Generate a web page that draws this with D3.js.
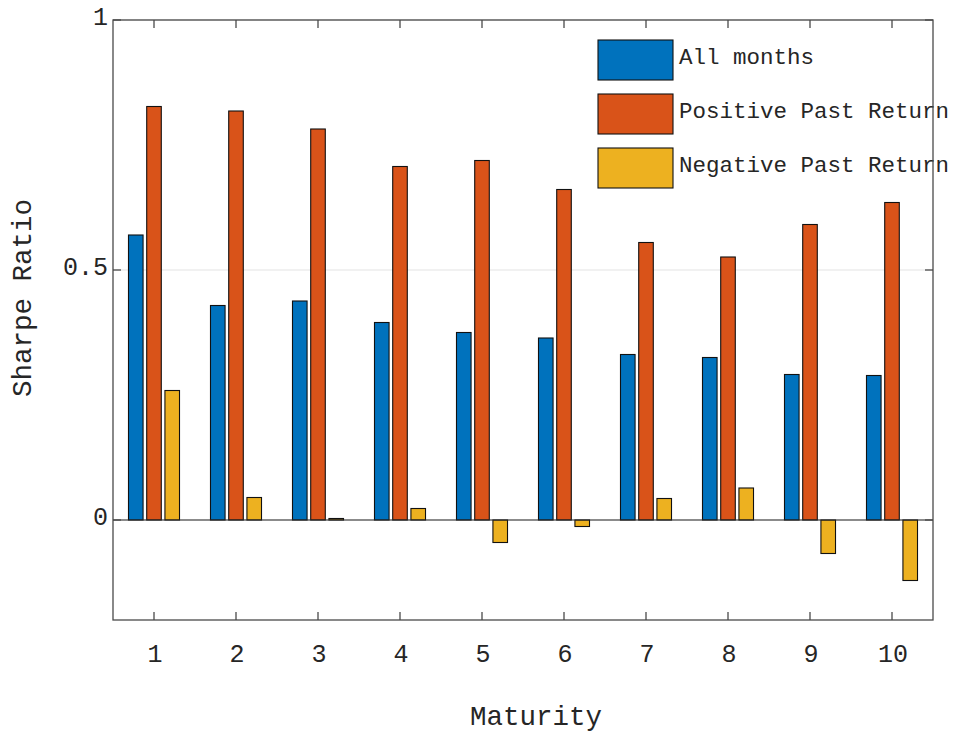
<!DOCTYPE html>
<html>
<head>
<meta charset="utf-8">
<script src="https://cdn.jsdelivr.net/npm/d3@7"></script>
<style>
  html, body { margin: 0; padding: 0; background: #fff; }
  svg { display: block; }
  text { font-family: "Courier New", Courier, "Nimbus Mono PS", "Nimbus Mono L", FreeMono, "Liberation Mono", monospace; fill: #262626; }
</style>
</head>
<body>
<svg id="chart" width="956" height="735"></svg>
<script>
const maturities = [1, 2, 3, 4, 5, 6, 7, 8, 9, 10];
const seriesNames = ["All months", "Positive Past Return", "Negative Past Return"];
const allMonths = [0.570, 0.429, 0.438, 0.395, 0.375, 0.364, 0.331, 0.325, 0.291, 0.289];
const positivePast = [0.827, 0.818, 0.782, 0.707, 0.719, 0.661, 0.555, 0.526, 0.591, 0.635];
const negativePast = [0.259, 0.045, 0.003, 0.023, -0.045, -0.013, 0.043, 0.064, -0.067, -0.121];
const yTicks = [0, 0.5, 1];
const yTickLabels = ["0", "0.5", "1"];
const colors = ["#0072BD", "#D95319", "#EDB120"];

const seriesValues = [allMonths, positivePast, negativePast];

const svg = d3.select("#chart");
const mLeft = 113, mRight = 933, mTop = 20, mBottom = 620;

const x = d3.scaleLinear().domain([0.5, 10.5]).range([mLeft, mRight]);
const y = d3.scaleLinear().domain([-0.2, 1]).range([mBottom, mTop]);

// MATLAB grouped bar geometry
const nSeries = seriesValues.length;
const groupWidth = Math.min(0.8, nSeries / (nSeries + 1.5));
const step = groupWidth / nSeries;
const barW = step * 0.8;

// grid
svg.append("g").selectAll("line").data(yTicks).join("line")
  .attr("x1", mLeft).attr("x2", mRight)
  .attr("y1", d => y(d)).attr("y2", d => y(d))
  .attr("stroke", "#e3e3e3").attr("stroke-width", 1.2);

// bars
seriesValues.forEach((vals, si) => {
  const off = (si - (nSeries - 1) / 2) * step;
  svg.append("g").selectAll("rect").data(vals).join("rect")
    .attr("x", (d, i) => x(maturities[i] + off - barW / 2))
    .attr("width", x(barW) - x(0))
    .attr("y", d => y(Math.max(0, d)))
    .attr("height", d => Math.abs(y(d) - y(0)))
    .attr("fill", colors[si])
    .attr("stroke", "#111")
    .attr("stroke-width", 1.1);
});

// baseline
svg.append("line")
  .attr("x1", mLeft).attr("x2", mRight)
  .attr("y1", y(0)).attr("y2", y(0))
  .attr("stroke", "#262626").attr("stroke-width", 1.1);

// legend
const lg = svg.append("g");
seriesNames.forEach((name, i) => {
  const cy = 60 + i * 54;
  lg.append("rect")
    .attr("x", 598).attr("y", cy - 20).attr("width", 75).attr("height", 40)
    .attr("fill", colors[i]).attr("stroke", "#111").attr("stroke-width", 1.1);
  lg.append("text")
    .attr("x", 679).attr("y", cy - 2.5)
    .attr("dominant-baseline", "central")
    .style("font-size", "22.5px")
    .text(name);
});

// axes frame
const axisColor = "#4a4a4a";
svg.append("rect")
  .attr("x", mLeft).attr("y", mTop).attr("width", mRight - mLeft).attr("height", mBottom - mTop)
  .attr("fill", "none").attr("stroke", axisColor).attr("stroke-width", 1.3);

const tickLen = 8;
// x ticks bottom & top (inward)
svg.append("g").selectAll("line").data(maturities).join("line")
  .attr("x1", d => x(d)).attr("x2", d => x(d))
  .attr("y1", mBottom).attr("y2", mBottom - tickLen)
  .attr("stroke", axisColor).attr("stroke-width", 1.3);
svg.append("g").selectAll("line").data(maturities).join("line")
  .attr("x1", d => x(d)).attr("x2", d => x(d))
  .attr("y1", mTop).attr("y2", mTop + tickLen)
  .attr("stroke", axisColor).attr("stroke-width", 1.3);
// y ticks left & right (inward)
svg.append("g").selectAll("line").data(yTicks).join("line")
  .attr("x1", mLeft).attr("x2", mLeft + tickLen)
  .attr("y1", d => y(d)).attr("y2", d => y(d))
  .attr("stroke", axisColor).attr("stroke-width", 1.3);
svg.append("g").selectAll("line").data(yTicks).join("line")
  .attr("x1", mRight).attr("x2", mRight - tickLen)
  .attr("y1", d => y(d)).attr("y2", d => y(d))
  .attr("stroke", axisColor).attr("stroke-width", 1.3);

// tick labels
svg.append("g").selectAll("text").data(maturities).join("text")
  .attr("x", d => x(d) + 1).attr("y", 662)
  .attr("text-anchor", "middle")
  .style("font-size", "25px")
  .text(d => String(d));
svg.append("g").selectAll("text").data(yTicks).join("text")
  .attr("x", 108).attr("y", d => y(d) - 2)
  .attr("text-anchor", "end")
  .attr("dominant-baseline", "central")
  .style("font-size", "25px")
  .text((d, i) => yTickLabels[i]);

// axis labels
svg.append("text")
  .attr("x", 536).attr("y", 725)
  .attr("text-anchor", "middle")
  .style("font-size", "27.5px")
  .text("Maturity");
svg.append("text")
  .attr("transform", "translate(31,298) rotate(-90)")
  .attr("text-anchor", "middle")
  .style("font-size", "27.5px")
  .text("Sharpe Ratio");
</script>
</body>
</html>
